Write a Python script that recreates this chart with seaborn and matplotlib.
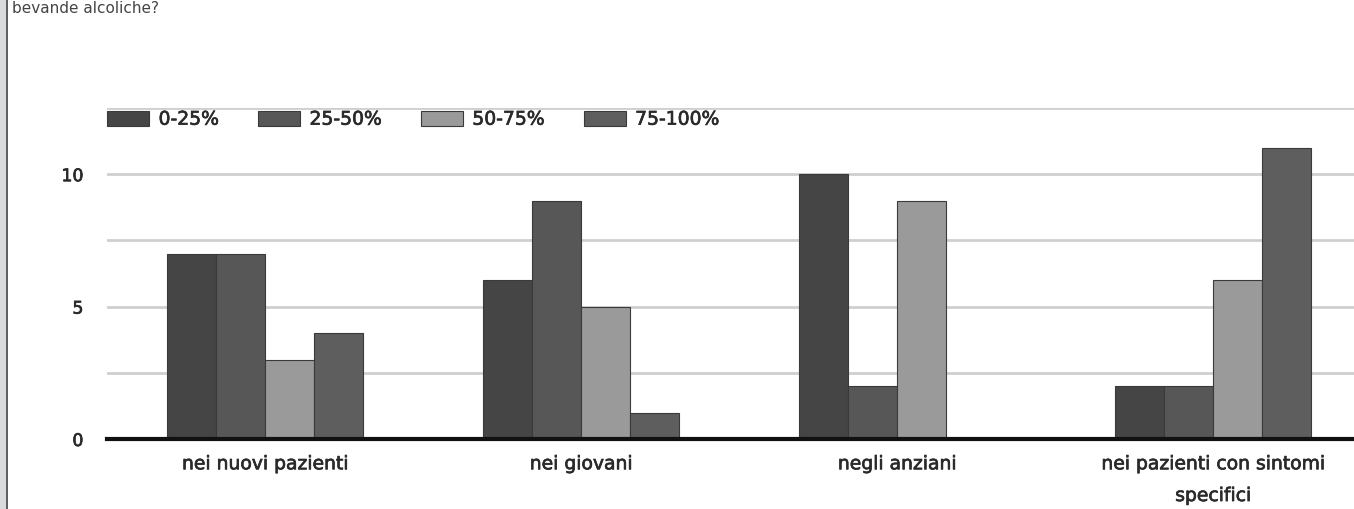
import matplotlib
matplotlib.use("Agg")
import matplotlib.pyplot as plt
from matplotlib.patches import Rectangle
import matplotlib.patheffects as pe
import seaborn as sns
import pandas as pd

# Data
categories = ["nei nuovi pazienti", "nei giovani", "negli anziani",
              "nei pazienti con sintomi\nspecifici"]
ranges = ["0-25%", "25-50%", "50-75%", "75-100%"]
v_0_25 = [7, 6, 10, 2]
v_25_50 = [7, 9, 2, 2]
v_50_75 = [3, 5, 9, 6]
v_75_100 = [4, 1, 0, 11]
series = [v_0_25, v_25_50, v_50_75, v_75_100]
colors = ["#454545", "#575757", "#9a9a9a", "#5e5e5e"]
caption = "bevande alcoliche?"
text_color = "#2a2a2a"

rows = []
for r, vals in zip(ranges, series):
    for c, v in zip(categories, vals):
        rows.append({"categoria": c, "fascia": r, "valore": v})
df = pd.DataFrame(rows)

sns.set_theme(style="white")
plt.rcParams["font.family"] = ["DejaVu Sans"]

W, H = 1354, 509
fig = plt.figure(figsize=(W / 100, H / 100), dpi=100)
fig.patch.set_facecolor("white")

# slightly heavier strokes for all labels
heavy = [pe.withStroke(linewidth=0.5, foreground=text_color)]

# window frame strip on the left edge
fig.patches.append(Rectangle((0, 0), 6 / W, 1, transform=fig.transFigure,
                             facecolor="#d9dadc", edgecolor="none", zorder=0))
fig.patches.append(Rectangle((6 / W, 0), 2 / W, 1, transform=fig.transFigure,
                             facecolor="#606060", edgecolor="none", zorder=0))

# question text at the top
fig.text(12 / W, 1 - 1 / H, caption, fontsize=11, color="#444444",
         va="top", ha="left")

ax = fig.add_axes([107 / W, (H - 439) / H, 4 * 316 / W, (439 - 108) / H])

sns.barplot(data=df, x="categoria", y="valore", hue="fascia",
            palette=colors, width=0.62, gap=0, edgecolor="#3a3a3a",
            linewidth=0.8, saturation=1, ax=ax, zorder=3, legend=True)

ax.set_xlim(-0.5, 3.5)
ax.set_ylim(0, 12.5)
ax.set_yticks([0, 2.5, 5, 7.5, 10, 12.5])
ax.set_yticklabels(["0", "", "5", "", "10", ""])
ax.grid(axis="y", color="#cfcfcf", linewidth=2, zorder=0)
ax.set_axisbelow(True)
for s in ["top", "right", "left"]:
    ax.spines[s].set_visible(False)
ax.spines["bottom"].set_color("#111111")
ax.spines["bottom"].set_linewidth(3)
ax.spines["bottom"].set_zorder(5)
ax.set_xlabel("")
ax.set_ylabel("")
ax.tick_params(axis="y", length=0, pad=17, labelsize=12.5, labelcolor=text_color)
ax.tick_params(axis="x", length=0, pad=11, labelsize=13.5, labelcolor=text_color)
for lab in ax.get_xticklabels():
    lab.set_linespacing(1.85)
    lab.set_va("top")
    lab.set_path_effects(heavy)
for lab in ax.get_yticklabels():
    lab.set_path_effects(heavy)

handles, labels = ax.get_legend_handles_labels()
leg = ax.legend(handles, labels, loc="upper left", bbox_to_anchor=(0.0, 0.995),
                ncol=4, frameon=False, fontsize=13.5, handlelength=2.25,
                handleheight=0.85, handletextpad=0.5, columnspacing=2.1,
                labelcolor=text_color, borderaxespad=0.0, borderpad=0.0)
for t in leg.get_texts():
    t.set_path_effects(heavy)

fig.savefig("out.png", dpi=100)
